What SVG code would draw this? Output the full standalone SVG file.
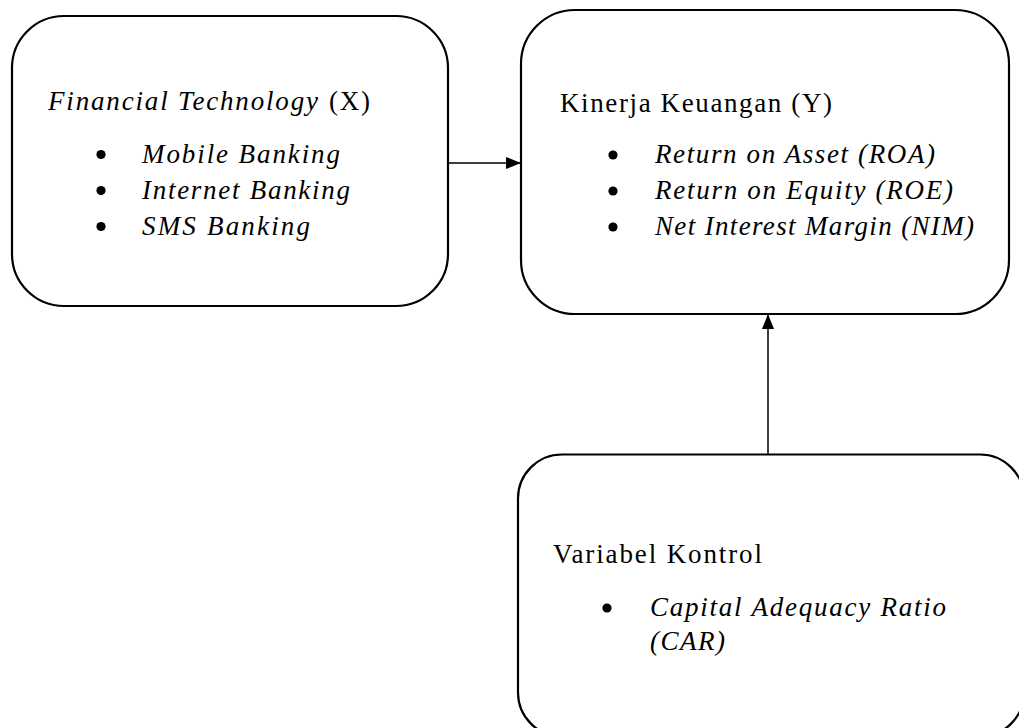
<svg xmlns="http://www.w3.org/2000/svg" width="1019" height="728" viewBox="0 0 1019 728">
  <style>
    .box { fill: #ffffff; stroke: #000000; stroke-width: 2.2; }
    .conn { stroke: #000000; stroke-width: 1.5; fill: none; }
    .bullet { fill: #000000; }
    text { font-family: "Liberation Serif", "Times New Roman", serif; font-size: 27px; fill: #000000; }
    .it { font-style: italic; }
  </style>
  <defs>
    <marker id="arrow" viewBox="0 0 15 12" refX="15" refY="6" markerWidth="15" markerHeight="12" markerUnits="userSpaceOnUse" orient="auto">
      <path d="M0,0 L15,6 L0,12 Z" fill="#000000"/>
    </marker>
  </defs>
  <rect width="1019" height="728" fill="#ffffff"/>

  <g id="connectors">
    <line class="conn" x1="448" y1="163" x2="521" y2="163" marker-end="url(#arrow)"/>
    <line class="conn" x1="768" y1="454" x2="768" y2="314" marker-end="url(#arrow)"/>
  </g>

  <g id="node-fintech">
    <rect class="box" x="12" y="16" width="436" height="290" rx="52" ry="52"/>
    <text x="48" y="110" class="it" textLength="270" lengthAdjust="spacing">Financial Technology</text>
    <text x="329" y="110" textLength="41" lengthAdjust="spacing">(X)</text>
    <circle class="bullet" cx="101" cy="154.5" r="4.6"/>
    <text x="142" y="163" class="it" textLength="198" lengthAdjust="spacing">Mobile Banking</text>
    <circle class="bullet" cx="101" cy="190.5" r="4.6"/>
    <text x="142" y="199" class="it" textLength="208" lengthAdjust="spacing">Internet Banking</text>
    <circle class="bullet" cx="101" cy="226.5" r="4.6"/>
    <text x="142" y="235" class="it" textLength="168" lengthAdjust="spacing">SMS Banking</text>
  </g>

  <g id="node-kinerja">
    <rect class="box" x="521" y="10" width="488" height="304" rx="54" ry="54"/>
    <text x="560" y="112" textLength="272" lengthAdjust="spacing">Kinerja Keuangan (Y)</text>
    <circle class="bullet" cx="613" cy="155" r="4.6"/>
    <text x="655" y="163" class="it" textLength="280" lengthAdjust="spacing">Return on Asset (ROA)</text>
    <circle class="bullet" cx="613" cy="191" r="4.6"/>
    <text x="655" y="199" class="it" textLength="298" lengthAdjust="spacing">Return on Equity (ROE)</text>
    <circle class="bullet" cx="613" cy="227" r="4.6"/>
    <text x="655" y="235" class="it" textLength="319" lengthAdjust="spacing">Net Interest Margin (NIM)</text>
  </g>

  <g id="node-kontrol">
    <rect class="box" x="518" y="454.5" width="506" height="282" rx="44" ry="44"/>
    <text x="553" y="563" textLength="209" lengthAdjust="spacing">Variabel Kontrol</text>
    <circle class="bullet" cx="607" cy="608" r="4.6"/>
    <text x="650" y="616" class="it" textLength="296" lengthAdjust="spacing">Capital Adequacy Ratio</text>
    <text x="650" y="650" class="it" textLength="75" lengthAdjust="spacing">(CAR)</text>
  </g>
</svg>
